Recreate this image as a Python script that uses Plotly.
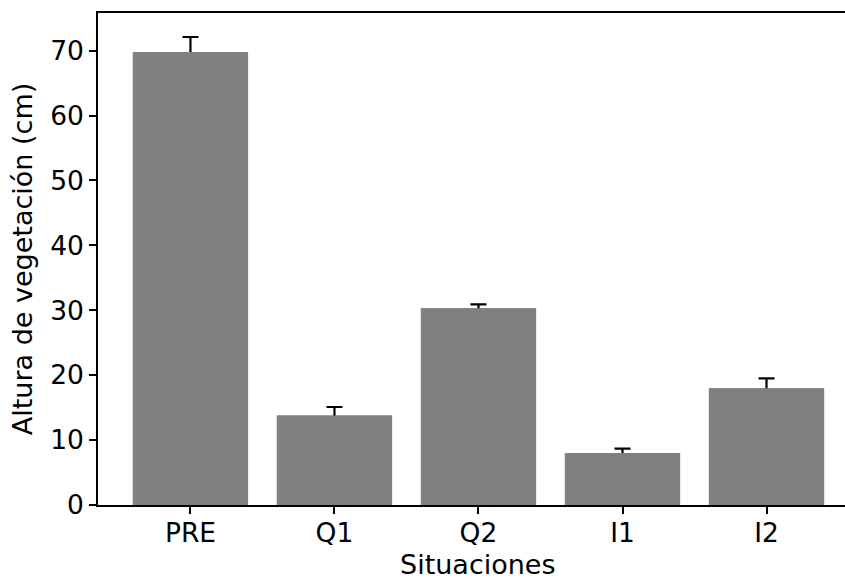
import plotly.graph_objects as go

# Mean vegetation height per situation, with upper error
situaciones = ["PRE", "Q1", "Q2", "I1", "I2"]
altura = [69.8, 13.8, 30.3, 8.0, 18.0]
error = [2.3, 1.3, 0.6, 0.7, 1.5]

y_ticks = [0, 10, 20, 30, 40, 50, 60, 70]

TICK_FONT = dict(family="DejaVu Sans", size=26.5, color="black")
TITLE_FONT = dict(family="DejaVu Sans", size=27, color="black")
BAR_COLOR = "#808080"

fig = go.Figure()

# Bars carrying the error bars (lower half hidden by the bars drawn on top)
fig.add_trace(go.Bar(
    x=situaciones, y=altura,
    marker=dict(color=BAR_COLOR, line=dict(width=0)),
    width=0.8,
    error_y=dict(type="data", array=error, symmetric=True,
                 color="black", thickness=2.2, width=8),
    showlegend=False, hoverinfo="skip",
))
# Plain bars on top
fig.add_trace(go.Bar(
    x=situaciones, y=altura,
    marker=dict(color=BAR_COLOR, line=dict(width=0), opacity=1),
    width=0.8,
    showlegend=False,
))

fig.update_layout(
    width=845, height=580,
    margin=dict(l=98, r=0, t=12.5, b=74.5),
    barmode="overlay",
    paper_bgcolor="white", plot_bgcolor="white",
    font=TICK_FONT,
)

fig.update_xaxes(
    range=[-0.642, 4.545],
    showline=True, linecolor="black", linewidth=1.6, mirror=True,
    ticks="outside", ticklen=7, tickwidth=1.5, tickcolor="black",
    showgrid=False, zeroline=False,
    tickfont=TICK_FONT, ticklabelstandoff=-4,
)
fig.update_yaxes(
    range=[0, 75.8],
    tickvals=y_ticks, ticktext=[str(v) for v in y_ticks],
    showline=True, linecolor="black", linewidth=1.6, mirror=False,
    ticks="outside", ticklen=7, tickwidth=1.5, tickcolor="black",
    showgrid=False, zeroline=False,
    tickfont=TICK_FONT,
    title=dict(text="Altura de vegetación (cm)", font=TITLE_FONT, standoff=10),
)

# x-axis title, centred on the full (partly off-page) axes width
fig.add_annotation(
    text="Situaciones", font=TITLE_FONT,
    xref="paper", yref="paper", x=0.5087, y=-0.1207,
    xanchor="center", yanchor="middle", showarrow=False,
)

fig.write_html("out.html")
